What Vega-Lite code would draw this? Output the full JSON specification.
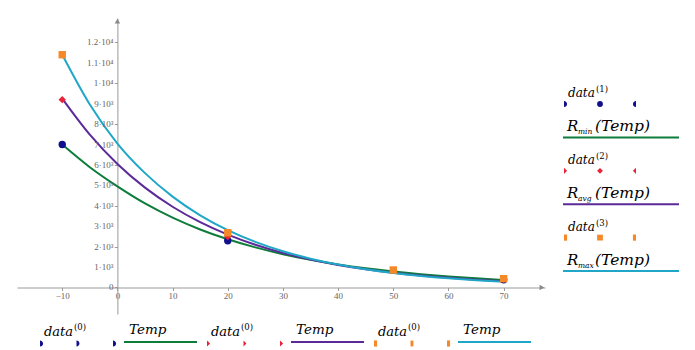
{
  "$schema": "https://vega.github.io/schema/vega-lite/v6.json",
  "padding": {"left": 17, "top": 18, "right": 0, "bottom": 0},
  "background": "white",
  "spacing": 0,
  "config": {"view": {"stroke": null}, "font": "DejaVu Serif", "axis": {"labelOverlap": false, "labelFlush": false}},
  "datasets": {
    "curves": [
      {"s": "1", "T": -10, "R": 7000}, {"s": "1", "T": -5, "R": 5890}, {"s": "1", "T": 0, "R": 4950}, {"s": "1", "T": 5, "R": 4114}, {"s": "1", "T": 10, "R": 3419}, {"s": "1", "T": 15, "R": 2842}, {"s": "1", "T": 20, "R": 2362}, {"s": "1", "T": 25, "R": 1963}, {"s": "1", "T": 30, "R": 1631}, {"s": "1", "T": 35, "R": 1356}, {"s": "1", "T": 40, "R": 1127}, {"s": "1", "T": 45, "R": 936}, {"s": "1", "T": 50, "R": 778}, {"s": "1", "T": 55, "R": 647}, {"s": "1", "T": 60, "R": 538}, {"s": "1", "T": 65, "R": 447}, {"s": "1", "T": 70, "R": 371},
      {"s": "2", "T": -10, "R": 9250}, {"s": "2", "T": -5, "R": 7483}, {"s": "2", "T": 0, "R": 6050}, {"s": "2", "T": 5, "R": 4892}, {"s": "2", "T": 10, "R": 3955}, {"s": "2", "T": 15, "R": 3198}, {"s": "2", "T": 20, "R": 2586}, {"s": "2", "T": 25, "R": 2091}, {"s": "2", "T": 30, "R": 1690}, {"s": "2", "T": 35, "R": 1367}, {"s": "2", "T": 40, "R": 1105}, {"s": "2", "T": 45, "R": 894}, {"s": "2", "T": 50, "R": 723}, {"s": "2", "T": 55, "R": 584}, {"s": "2", "T": 60, "R": 472}, {"s": "2", "T": 65, "R": 382}, {"s": "2", "T": 70, "R": 309},
      {"s": "3", "T": -10, "R": 11400}, {"s": "3", "T": -5, "R": 8962}, {"s": "3", "T": 0, "R": 7050}, {"s": "3", "T": 5, "R": 5601}, {"s": "3", "T": 10, "R": 4451}, {"s": "3", "T": 15, "R": 3536}, {"s": "3", "T": 20, "R": 2809}, {"s": "3", "T": 25, "R": 2232}, {"s": "3", "T": 30, "R": 1774}, {"s": "3", "T": 35, "R": 1409}, {"s": "3", "T": 40, "R": 1120}, {"s": "3", "T": 45, "R": 890}, {"s": "3", "T": 50, "R": 707}, {"s": "3", "T": 55, "R": 562}, {"s": "3", "T": 60, "R": 446}, {"s": "3", "T": 65, "R": 355}, {"s": "3", "T": 70, "R": 282}
    ],
    "pts": [
      {"s": "1", "T": -10, "R": 7000}, {"s": "1", "T": 20, "R": 2290}, {"s": "1", "T": 70, "R": 380},
      {"s": "2", "T": -10, "R": 9200}, {"s": "2", "T": 20, "R": 2490}, {"s": "2", "T": 70, "R": 400},
      {"s": "3", "T": -10, "R": 11400}, {"s": "3", "T": 20, "R": 2680}, {"s": "3", "T": 50, "R": 855}, {"s": "3", "T": 70, "R": 430}
    ],
    "ylabs": [
      {"v": 0, "lab": "0"}, {"v": 1000, "lab": "1·10³"}, {"v": 2000, "lab": "2·10³"}, {"v": 3000, "lab": "3·10³"}, {"v": 4000, "lab": "4·10³"},
      {"v": 5000, "lab": "5·10³"}, {"v": 6000, "lab": "6·10³"}, {"v": 7000, "lab": "7·10³"}, {"v": 8000, "lab": "8·10³"}, {"v": 9000, "lab": "9·10³"},
      {"v": 10000, "lab": "1·10⁴"}, {"v": 11000, "lab": "1.1·10⁴"}, {"v": 12000, "lab": "1.2·10⁴"}
    ],
    "rleg": [
      {"s": "1", "item": "1d", "label": "data", "sup": "(1)"},
      {"s": "1", "item": "1r", "label": "R", "sub": "min", "arg": "(Temp)"},
      {"s": "2", "item": "2d", "label": "data", "sup": "(2)"},
      {"s": "2", "item": "2r", "label": "R", "sub": "avg", "arg": "(Temp)"},
      {"s": "3", "item": "3d", "label": "data", "sup": "(3)"},
      {"s": "3", "item": "3r", "label": "R", "sub": "max", "arg": "(Temp)"}
    ],
    "bleg": [
      {"s": "1", "label": "data", "sup": "(0)", "arg": "Temp"},
      {"s": "2", "label": "data", "sup": "(0)", "arg": "Temp"},
      {"s": "3", "label": "data", "sup": "(0)", "arg": "Temp"}
    ]
  },
  "vconcat": [
    {
      "hconcat": [
        {
          "width": 528,
          "height": 296,
          "layer": [
            {
              "data": {"name": "curves"},
              "mark": {"type": "line", "strokeWidth": 2, "interpolate": "monotone"},
              "encoding": {
                "x": {"field": "T", "type": "quantitative",
                  "scale": {"domain": [-18.2, 77.5], "nice": false, "zero": false},
                  "axis": {"values": [-10, 0, 10, 20, 30, 40, 50, 60, 70], "offset": -26.5, "orient": "bottom", "grid": false, "title": null,
                    "domainColor": "#9a9a9a", "tickColor": "#9a9a9a", "tickSize": 3, "labelPadding": 1,
                    "labelFont": "Liberation Serif", "labelFontSize": 9, "labelColor": "#666666", "labelFlush": false, "labelOverlap": false,
                    "labelExpr": "datum.value < 0 ? '−' + abs(datum.value) : datum.label"}},
                "y": {"field": "R", "type": "quantitative",
                  "scale": {"domain": [-1300, 13200], "nice": false, "zero": false},
                  "axis": {"values": [0, 1000, 2000, 3000, 4000, 5000, 6000, 7000, 8000, 9000, 10000, 11000, 12000], "offset": -100.4, "orient": "left", "grid": false, "title": null,
                    "domainColor": "#9a9a9a", "tickColor": "#9a9a9a", "tickSize": 3, "labels": false}},
                "stroke": {"field": "s", "type": "nominal", "legend": null,
                  "scale": {"domain": ["1", "2", "3"], "range": ["#0e7c3b", "#5b2a98", "#20a7c8"]}}
              }
            },
            {
              "data": {"name": "ylabs"},
              "mark": {"type": "text", "align": "right", "baseline": "middle", "dx": -4, "font": "Liberation Serif", "fontSize": 9, "color": "#666666"},
              "encoding": {
                "x": {"datum": 0, "type": "quantitative"},
                "y": {"field": "v", "type": "quantitative"},
                "text": {"field": "lab"}
              }
            },
            {
              "data": {"name": "pts"},
              "mark": {"type": "point", "filled": true, "opacity": 1, "size": 55, "strokeWidth": 0},
              "encoding": {
                "x": {"field": "T", "type": "quantitative"},
                "y": {"field": "R", "type": "quantitative"},
                "fill": {"field": "s", "type": "nominal", "legend": null,
                  "scale": {"domain": ["1", "2", "3"], "range": ["#10108c", "#e8233a", "#f5892a"]}},
                "shape": {"field": "s", "type": "nominal", "legend": null,
                  "scale": {"domain": ["1", "2", "3"], "range": ["circle", "diamond", "square"]}}
              }
            },
            {
              "data": {"values": [{}]},
              "mark": {"type": "point", "shape": "triangle-right", "filled": true, "color": "#8a8a8a", "size": 30, "opacity": 1},
              "encoding": {"x": {"datum": 76.95}, "y": {"datum": 0}}
            },
            {
              "data": {"values": [{}]},
              "mark": {"type": "point", "shape": "triangle-up", "filled": true, "color": "#8a8a8a", "size": 30, "opacity": 1},
              "encoding": {"x": {"datum": 0}, "y": {"datum": 13050}}
            }
          ]
        },
        {
          "width": 117,
          "height": 296,
          "data": {"name": "rleg"},
          "resolve": {"scale": {"shape": "independent"}},
          "encoding": {
            "y": {"field": "item", "type": "nominal", "axis": null,
              "scale": {"type": "point", "domain": ["1d", "1r", "2d", "2r", "3d", "3r"], "range": [86, 253], "padding": 0}}
          },
          "layer": [
            {
              "transform": [{"filter": "isValid(datum.sub)"}],
              "mark": {"type": "rule", "strokeWidth": 2},
              "encoding": {
                "x": {"datum": 0, "type": "quantitative", "axis": null, "scale": {"domain": [0, 117], "nice": false, "zero": false}},
                "x2": {"datum": 116},
                "stroke": {"field": "s", "type": "nominal", "legend": null,
                  "scale": {"domain": ["1", "2", "3"], "range": ["#0e7c3b", "#5b2a98", "#20a7c8"]}}
              }
            },
            {
              "transform": [{"filter": "isValid(datum.sup)"}],
              "mark": {"type": "point", "filled": true, "opacity": 1, "size": 38, "strokeWidth": 0},
              "encoding": {
                "x": {"datum": 1, "type": "quantitative"},
                "fill": {"field": "s", "type": "nominal", "legend": null, "scale": {"domain": ["1", "2", "3"], "range": ["#10108c", "#e8233a", "#f5892a"]}},
                "shape": {"field": "s", "type": "nominal", "legend": null, "scale": {"domain": ["1", "2", "3"], "range": ["M0,-1A1,1,0,0,1,0,1Z", "M0,-1L1,0L0,1Z", "M0,-1L1,-1L1,1L0,1Z"]}}
              }
            },
            {
              "transform": [{"filter": "isValid(datum.sup)"}],
              "mark": {"type": "point", "filled": true, "opacity": 1, "size": 34, "strokeWidth": 0},
              "encoding": {
                "x": {"datum": 37, "type": "quantitative"},
                "fill": {"field": "s", "type": "nominal", "legend": null, "scale": {"domain": ["1", "2", "3"], "range": ["#10108c", "#e8233a", "#f5892a"]}},
                "shape": {"field": "s", "type": "nominal", "legend": null, "scale": {"domain": ["1", "2", "3"], "range": ["circle", "diamond", "square"]}}
              }
            },
            {
              "transform": [{"filter": "isValid(datum.sup)"}],
              "mark": {"type": "point", "filled": true, "opacity": 1, "size": 38, "strokeWidth": 0},
              "encoding": {
                "x": {"datum": 73, "type": "quantitative"},
                "fill": {"field": "s", "type": "nominal", "legend": null, "scale": {"domain": ["1", "2", "3"], "range": ["#10108c", "#e8233a", "#f5892a"]}},
                "shape": {"field": "s", "type": "nominal", "legend": null, "scale": {"domain": ["1", "2", "3"], "range": ["M0,-1A1,1,0,0,0,0,1Z", "M0,-1L-1,0L0,1Z", "M0,-1L-1,-1L-1,1L0,1Z"]}}
              }
            },
            {
              "transform": [{"filter": "isValid(datum.sup)"}],
              "mark": {"type": "text", "align": "left", "baseline": "alphabetic", "dy": -7, "font": "DejaVu Serif", "fontStyle": "italic", "fontSize": 12, "color": "#000000"},
              "encoding": {"x": {"datum": 5, "type": "quantitative"}, "text": {"field": "label"}}
            },
            {
              "transform": [{"filter": "isValid(datum.sup)"}],
              "mark": {"type": "text", "align": "left", "baseline": "alphabetic", "dx": 28, "dy": -12, "font": "DejaVu Serif", "fontSize": 8.5, "color": "#000000"},
              "encoding": {"x": {"datum": 5, "type": "quantitative"}, "text": {"field": "sup"}}
            },
            {
              "transform": [{"filter": "isValid(datum.sub)"}],
              "mark": {"type": "text", "align": "left", "baseline": "alphabetic", "dy": -6, "font": "DejaVu Serif", "fontStyle": "italic", "fontSize": 15, "color": "#000000"},
              "encoding": {"x": {"datum": 4, "type": "quantitative"}, "text": {"field": "label"}}
            },
            {
              "transform": [{"filter": "isValid(datum.sub)"}],
              "mark": {"type": "text", "align": "left", "baseline": "alphabetic", "dx": 11, "dy": -3, "font": "DejaVu Serif", "fontStyle": "italic", "fontSize": 7.5, "color": "#000000"},
              "encoding": {"x": {"datum": 4, "type": "quantitative"}, "text": {"field": "sub"}}
            },
            {
              "transform": [{"filter": "isValid(datum.sub)"}],
              "mark": {"type": "text", "align": "left", "baseline": "alphabetic", "dx": 28, "dy": -6, "font": "DejaVu Serif", "fontStyle": "italic", "fontSize": 15.5, "color": "#000000"},
              "encoding": {"x": {"datum": 4, "type": "quantitative"}, "text": {"field": "arg"}}
            }
          ]
        }
      ],
      "spacing": 18,
      "bounds": "flush"
    },
    {
      "data": {"name": "bleg"},
      "facet": {"column": {"field": "s", "type": "nominal", "title": null, "header": {"labels": false, "title": null, "labelPadding": 0, "titlePadding": 0}}},
      "spacing": 10,
      "bounds": "flush",
      "resolve": {"scale": {"shape": "independent"}},
      "spec": {
        "width": 157,
        "height": 36,
        "layer": [
          {
            "mark": {"type": "rule", "strokeWidth": 2},
            "encoding": {
              "x": {"datum": 107, "type": "quantitative", "axis": null, "scale": {"domain": [0, 157], "nice": false, "zero": false}},
              "x2": {"datum": 180},
              "y": {"datum": 28, "type": "quantitative", "axis": null, "scale": {"domain": [36, 0], "nice": false, "zero": false}},
              "stroke": {"field": "s", "type": "nominal", "legend": null, "scale": {"domain": ["1", "2", "3"], "range": ["#0e7c3b", "#5b2a98", "#20a7c8"]}}
            }
          },
          {
            "mark": {"type": "point", "filled": true, "opacity": 1, "size": 38, "strokeWidth": 0},
            "encoding": {
              "x": {"datum": 23, "type": "quantitative"},
              "y": {"datum": 29.5, "type": "quantitative"},
              "fill": {"field": "s", "type": "nominal", "legend": null, "scale": {"domain": ["1", "2", "3"], "range": ["#10108c", "#e8233a", "#f5892a"]}},
              "shape": {"field": "s", "type": "nominal", "legend": null, "scale": {"domain": ["1", "2", "3"], "range": ["M0,-1A1,1,0,0,1,0,1Z", "M0,-1L1,0L0,1Z", "M0,-1L1,-1L1,1L0,1Z"]}}
            }
          },
          {
            "mark": {"type": "point", "filled": true, "opacity": 1, "size": 34, "strokeWidth": 0},
            "encoding": {
              "x": {"datum": 59.5, "type": "quantitative"},
              "y": {"datum": 29.5, "type": "quantitative"},
              "fill": {"field": "s", "type": "nominal", "legend": null, "scale": {"domain": ["1", "2", "3"], "range": ["#10108c", "#e8233a", "#f5892a"]}},
              "shape": {"field": "s", "type": "nominal", "legend": null, "scale": {"domain": ["1", "2", "3"], "range": ["circle", "diamond", "square"]}}
            }
          },
          {
            "mark": {"type": "point", "filled": true, "opacity": 1, "size": 38, "strokeWidth": 0},
            "encoding": {
              "x": {"datum": 96, "type": "quantitative"},
              "y": {"datum": 29.5, "type": "quantitative"},
              "fill": {"field": "s", "type": "nominal", "legend": null, "scale": {"domain": ["1", "2", "3"], "range": ["#10108c", "#e8233a", "#f5892a"]}},
              "shape": {"field": "s", "type": "nominal", "legend": null, "scale": {"domain": ["1", "2", "3"], "range": ["M0,-1A1,1,0,0,0,0,1Z", "M0,-1L-1,0L0,1Z", "M0,-1L-1,-1L-1,1L0,1Z"]}}
            }
          },
          {
            "mark": {"type": "text", "align": "left", "baseline": "alphabetic", "font": "DejaVu Serif", "fontStyle": "italic", "fontSize": 13, "color": "#000000"},
            "encoding": {"x": {"datum": 27, "type": "quantitative"}, "y": {"datum": 22, "type": "quantitative"}, "text": {"field": "label"}}
          },
          {
            "mark": {"type": "text", "align": "left", "baseline": "alphabetic", "dx": 30, "dy": -6, "font": "DejaVu Serif", "fontSize": 8.5, "color": "#000000"},
            "encoding": {"x": {"datum": 27, "type": "quantitative"}, "y": {"datum": 22, "type": "quantitative"}, "text": {"field": "sup"}}
          },
          {
            "mark": {"type": "text", "align": "left", "baseline": "alphabetic", "font": "DejaVu Serif", "fontStyle": "italic", "fontSize": 13.5, "color": "#000000"},
            "encoding": {"x": {"datum": 112, "type": "quantitative"}, "y": {"datum": 20, "type": "quantitative"}, "text": {"field": "arg"}}
          }
        ]
      }
    }
  ]
}
